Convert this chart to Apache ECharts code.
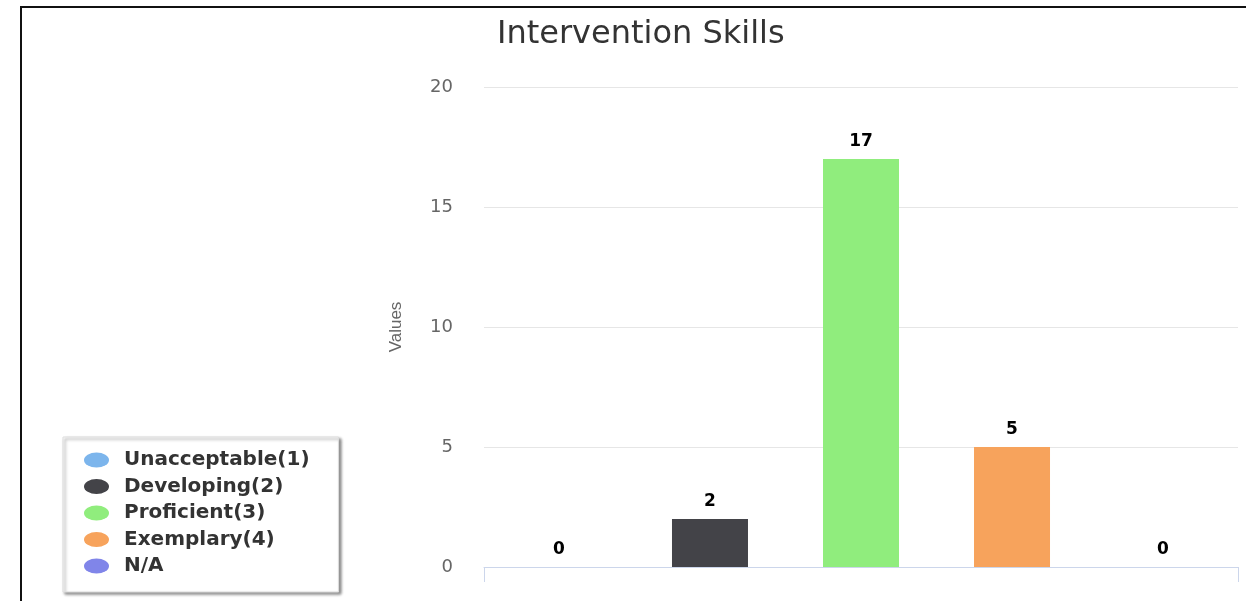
<!DOCTYPE html>
<html>
<head>
<meta charset="utf-8">
<script src="https://cdn.jsdelivr.net/npm/echarts@6/dist/echarts.min.js"></script>
<style>
  html, body { margin: 0; padding: 0; background: #fff; }
  #chart { width: 1246px; height: 601px; }
</style>
</head>
<body>
<div id="chart"></div>
<script>
// data
const categories = ['Intervention Skills'];
const seriesNames = ['Unacceptable(1)', 'Developing(2)', 'Proficient(3)', 'Exemplary(4)', 'N/A'];
const seriesValues = [0, 2, 17, 5, 0];
const seriesColors = ['#7cb5ec', '#434348', '#90ed7d', '#f7a35c', '#8085e9'];
const yTicks = { min: 0, max: 20, interval: 5 };

// ellipse icon, with an empty point on the right so the text sits further out
const ellipseIcon = 'path://M0,0M35,15M0,7.5A12.5,7.5,0,1,1,25,7.5A12.5,7.5,0,1,1,0,7.5Z';

const chart = echarts.init(document.getElementById('chart'));

let option = {
  animation: false,
  title: {
    text: 'Intervention Skills',
    left: 492,
    top: 14,
    textStyle: {
      fontFamily: 'DejaVu Sans',
      fontSize: 32,
      fontWeight: 'normal',
      color: '#333'
    }
  },
  graphic: [
    {
      type: 'rect',
      z: -1,
      shape: { x: 21, y: 7, width: 1400, height: 800 },
      style: { fill: 'none', stroke: '#111', lineWidth: 2 }
    }
  ],
  legend: {
    orient: 'vertical',
    left: 63,
    top: 437,
    padding: [13, 29, 16, 21],
    itemGap: 6.5,
    itemWidth: 35,
    itemHeight: 15,
    icon: ellipseIcon,
    symbolKeepAspect: false,
    backgroundColor: '#fff',
    borderColor: '#ddd',
    borderWidth: 1,
    shadowColor: 'rgba(0,0,0,0.45)',
    shadowBlur: 3,
    shadowOffsetX: 2,
    shadowOffsetY: 2,
    textStyle: {
      fontFamily: 'DejaVu Sans',
      fontSize: 20,
      fontWeight: 'bold',
      color: '#333'
    },
    data: seriesNames
  },
  grid: {
    left: 484,
    right: 8,
    top: 87,
    bottom: 34
  },
  xAxis: {
    type: 'category',
    data: categories,
    axisLine: { lineStyle: { color: '#ccd6eb', width: 1 } },
    axisTick: { show: true, length: 15, lineStyle: { color: '#ccd6eb' } },
    axisLabel: { show: false }
  },
  yAxis: {
    type: 'value',
    min: yTicks.min,
    max: yTicks.max,
    interval: yTicks.interval,
    name: 'Values',
    nameLocation: 'middle',
    nameRotate: 90,
    nameGap: 79,
    nameTextStyle: {
      fontFamily: 'Liberation Sans',
      fontSize: 17,
      color: '#666'
    },
    axisLine: { show: false },
    axisTick: { show: false },
    axisLabel: {
      margin: 31,
      fontFamily: 'DejaVu Sans',
      fontSize: 18,
      color: '#666'
    },
    splitLine: { lineStyle: { color: '#e6e6e6' } }
  },
  series: seriesNames.map((name, i) => ({
    name: name,
    type: 'bar',
    data: [seriesValues[i]],
    barWidth: 76,
    barGap: '98.7%',
    itemStyle: { color: seriesColors[i] },
    label: {
      show: true,
      position: 'top',
      distance: 9,
      fontFamily: 'DejaVu Sans',
      fontSize: 17,
      fontWeight: 'bold',
      color: '#000'
    }
  }))
};

chart.setOption(option);
</script>
</body>
</html>
